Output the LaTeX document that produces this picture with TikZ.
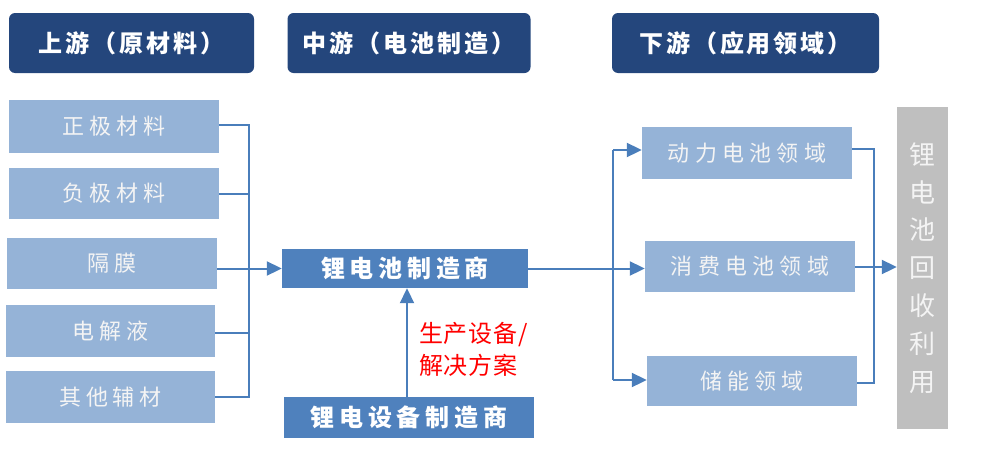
\documentclass[tikz,border=0pt]{standalone}
\usepackage{fontspec}
\setmainfont{Noto Sans CJK SC}
\usetikzlibrary{arrows.meta}
\definecolor{hdr}{HTML}{24467C}
\definecolor{lite}{HTML}{95B3D7}
\definecolor{mid}{HTML}{4F81BD}
\definecolor{gry}{HTML}{BFBFBF}
\definecolor{ln}{HTML}{4A7EBB}
\definecolor{txtw}{HTML}{F4F4F4}
\tikzset{
  hbox/.style={fill=hdr, rounded corners=6pt, text=white, inner sep=0pt, font=\fontsize{24}{26}\selectfont\bfseries\addfontfeature{LetterSpace=12}},
  lbox/.style={fill=lite, text=txtw, inner sep=0pt, font=\fontsize{22}{25}\selectfont\addfontfeature{LetterSpace=22}},
  rbox/.style={fill=lite, text=txtw, inner sep=0pt, font=\fontsize{22}{25}\selectfont\addfontfeature{LetterSpace=24}},
  mbox/.style={fill=mid, text=white, inner sep=0pt, font=\fontsize{24}{26}\selectfont\bfseries\addfontfeature{LetterSpace=20}},
  gbox/.style={fill=gry, text=txtw, inner sep=0pt, font=\fontsize{26}{37.8}\selectfont},
  conn/.style={draw=ln, line width=2pt},
  arr/.style={conn, -{Triangle[length=15pt,width=14pt]}},
}
\begin{document}
\begin{tikzpicture}[x=1pt,y=-1pt]
\useasboundingbox (0,0) rectangle (1008,450);
% headers
\node[hbox, minimum width=245pt, minimum height=60pt] (h1) at (131.5,43) {上游（原材料）};
\node[hbox, minimum width=243pt, minimum height=60pt] (h2) at (409,43) {中游（电池制造）};
\node[hbox, minimum width=267pt, minimum height=60pt] (h3) at (745.5,43) {下游（应用领域）};
% upstream
\node[lbox, minimum width=210pt, minimum height=53pt] (a) at (114,126.5) {正极材料};
\node[lbox, minimum width=210pt, minimum height=51pt] (b) at (114,193.5) {负极材料};
\node[lbox, minimum width=210pt, minimum height=51pt] (c) at (112,263.5) {隔膜};
\node[lbox, minimum width=209pt, minimum height=52pt] (d) at (110.5,331) {电解液};
\node[lbox, minimum width=209pt, minimum height=52pt] (e) at (110.5,397) {其他辅材};
% midstream
\node[mbox, minimum width=246pt, minimum height=39pt] (m) at (405,268.5) {锂电池制造商};
\node[mbox, minimum width=250pt, minimum height=41pt] (q) at (409,417.5) {锂电设备制造商};
\node[anchor=west, text=red, align=left, inner sep=0pt, font=\fontsize{24}{32}\selectfont\addfontfeature{LetterSpace=3}] (r) at (419,349) {生产设备/\\解决方案};
% downstream
\node[rbox, minimum width=210pt, minimum height=52pt] (d1) at (747,153) {动力电池领域};
\node[rbox, minimum width=210pt, minimum height=51pt] (d2) at (750,266.5) {消费电池领域};
\node[rbox, minimum width=210pt, minimum height=50pt] (d3) at (752,381) {储能领域};
\node[gbox, minimum width=51pt, minimum height=322pt, align=center] (g) at (922.5,268) {锂\\电\\池\\回\\收\\利\\用};
% bus coordinates
\coordinate (lb) at (249,0);
\coordinate (rb1) at (613,0);
\coordinate (rb2) at (874,0);
% left connectors
\draw[conn] (a.east |- 0,125) -- (lb |- 0,125) -- (lb |- 0,397) -- (e.east |- 0,397);
\draw[conn] (b.east) -- (b.east -| lb);
\draw[conn] (d.east |- 0,333) -- (lb |- 0,333);
\draw[arr] (c.east |- m.west) -- (m.west);
% equipment arrow
\draw[arr] (q.north -| 407,0) -- (m.south -| 407,0);
% to downstream
\draw[conn] (m.east) -- (m.east -| rb1);
\draw[conn] (rb1 |- 0,150) -- (rb1 |- 0,380);
\draw[arr] (rb1 |- 0,150) -- (d1.west |- 0,150);
\draw[arr] (rb1 |- m.east) -- (d2.west |- m.east);
\draw[arr] (rb1 |- 0,380) -- (d3.west |- 0,380);
% to recycling
\draw[conn] (d1.east |- 0,149) -- (rb2 |- 0,149) -- (rb2 |- 0,383) -- (d3.east |- 0,383);
\draw[arr] (d2.east |- 0,267) -- (g.west |- 0,267);
\end{tikzpicture}
\end{document}
